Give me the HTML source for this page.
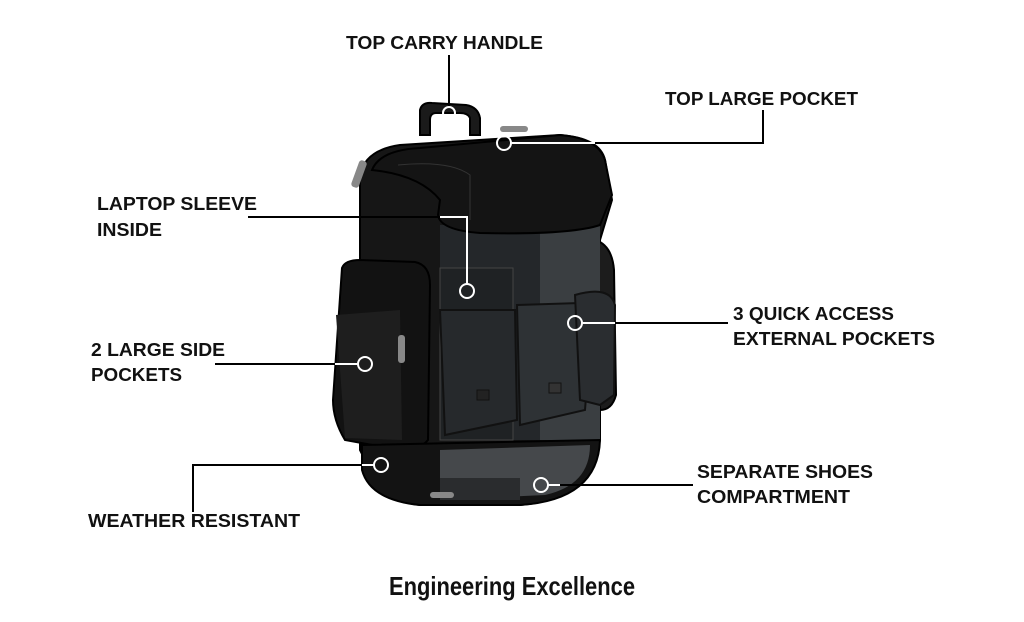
<!DOCTYPE html>
<html><head><meta charset="utf-8"><style>
html,body{margin:0;padding:0;background:#fff;width:1024px;height:622px;overflow:hidden}
text{font-family:"Liberation Sans",sans-serif;font-weight:bold;fill:#111}
</style></head><body>
<svg width="1024" height="622" viewBox="0 0 1024 622" xmlns="http://www.w3.org/2000/svg">
<path d="M420 135 L420 110 Q422 102 432 103 L466 105 Q478 107 480 118 L480 135 L470 135 L470 118 Q468 113 460 113 L436 113 Q430 113 430 120 L430 135Z" fill="#1a1a1a" stroke="#000" stroke-width="2"/>
<path d="M360 175 Q365 150 400 145 L560 135 Q600 138 605 160 L612 200 L600 240 L600 440 Q590 500 520 505 L420 505 Q375 500 370 470 L360 450 Z" fill="#161616" stroke="#000" stroke-width="2"/>
<path d="M595 240 Q612 245 614 270 L616 395 Q612 410 600 410Z" fill="#1c1c1c" stroke="#000" stroke-width="2"/>
<path d="M440 225 L600 225 L600 440 L440 440Z" fill="#24272a"/>
<path d="M540 225 L600 225 L600 440 L540 440Z" fill="#3a3e41"/>
<path d="M440 268 L513 268 L513 440 L440 440Z" fill="#1f2224" stroke="#444" stroke-width="1"/>
<path d="M372 170 Q380 150 420 148 L560 135 Q598 138 605 160 L612 195 L600 225 Q570 235 480 233 Q440 230 438 215 L440 200 Q420 175 372 170Z" fill="#141414" stroke="#000" stroke-width="2"/>
<path d="M398 165 Q450 160 470 175 L470 220" fill="none" stroke="#333" stroke-width="1"/>
<rect x="355" y="160" width="8" height="28" rx="3" fill="#888" transform="rotate(20 359 174)"/>
<rect x="500" y="126" width="28" height="6" rx="3" fill="#888"/>
<path d="M440 310 L515 310 L517 420 L445 435Z" fill="#26292c" stroke="#111" stroke-width="2"/>
<path d="M517 305 L580 303 L590 345 L585 410 L520 425Z" fill="#2e3235" stroke="#111" stroke-width="2"/>
<path d="M575 295 Q610 285 615 305 L614 395 L600 405 L580 400Z" fill="#2a2d30" stroke="#111" stroke-width="2"/>
<rect x="477" y="390" width="12" height="10" fill="#222" stroke="#111"/>
<rect x="549" y="383" width="12" height="10" fill="#333" stroke="#111"/>
<path d="M342 268 Q345 260 360 260 L415 262 Q430 265 430 285 L428 440 Q420 450 400 450 L345 440 Q333 420 333 400Z" fill="#121212" stroke="#000" stroke-width="2"/>
<path d="M336 315 L400 310 L402 440 L345 438Z" fill="#1e1e1e"/>
<rect x="398" y="335" width="7" height="28" rx="3" fill="#888"/>
<path d="M362 445 L600 440 Q598 500 520 505 L420 505 Q370 500 362 470Z" fill="#131313" stroke="#000" stroke-width="2"/>
<path d="M440 450 L590 445 Q590 485 545 495 L440 500Z" fill="#45484b"/>
<path d="M440 478 L520 478 L520 500 L440 500Z" fill="#2a2c2e"/>
<rect x="430" y="492" width="24" height="6" rx="3" fill="#888"/>
<g fill="none" stroke="#000" stroke-width="2">
<path d="M449 55 V107"/>
<path d="M763 110 V143 H595"/>
<path d="M248 217 H440"/>
<path d="M215 364 H335"/>
<path d="M193 512 V465 H362"/>
<path d="M728 323 H615"/>
<path d="M693 485 H560"/>
</g>
<g fill="none" stroke="#fff" stroke-width="2">
<path d="M595 143 H511"/>
<path d="M440 217 H467 V284"/>
<path d="M335 364 H358"/>
<path d="M362 465 H374"/>
<path d="M615 323 H582"/>
<path d="M560 485 H548"/>
<circle cx="449" cy="113" r="6"/>
<circle cx="504" cy="143" r="7"/>
<circle cx="467" cy="291" r="7"/>
<circle cx="365" cy="364" r="7"/>
<circle cx="381" cy="465" r="7"/>
<circle cx="575" cy="323" r="7"/>
<circle cx="541" cy="485" r="7"/>
</g>
<g font-size="18">
<text x="346" y="49" textLength="197" lengthAdjust="spacingAndGlyphs">TOP CARRY HANDLE</text>
<text x="665" y="105" textLength="193" lengthAdjust="spacingAndGlyphs">TOP LARGE POCKET</text>
<text x="97" y="210" textLength="160" lengthAdjust="spacingAndGlyphs">LAPTOP SLEEVE</text>
<text x="97" y="236" textLength="65" lengthAdjust="spacingAndGlyphs">INSIDE</text>
<text x="91" y="356" textLength="134" lengthAdjust="spacingAndGlyphs">2 LARGE SIDE</text>
<text x="91" y="381" textLength="91" lengthAdjust="spacingAndGlyphs">POCKETS</text>
<text x="88" y="527" textLength="212" lengthAdjust="spacingAndGlyphs">WEATHER RESISTANT</text>
<text x="733" y="320" textLength="161" lengthAdjust="spacingAndGlyphs">3 QUICK ACCESS</text>
<text x="733" y="345" textLength="202" lengthAdjust="spacingAndGlyphs">EXTERNAL POCKETS</text>
<text x="697" y="478" textLength="176" lengthAdjust="spacingAndGlyphs">SEPARATE SHOES</text>
<text x="697" y="503" textLength="153" lengthAdjust="spacingAndGlyphs">COMPARTMENT</text>
</g>
<text x="389" y="595" font-size="26" textLength="246" lengthAdjust="spacingAndGlyphs">Engineering Excellence</text>
</svg>
</body></html>
